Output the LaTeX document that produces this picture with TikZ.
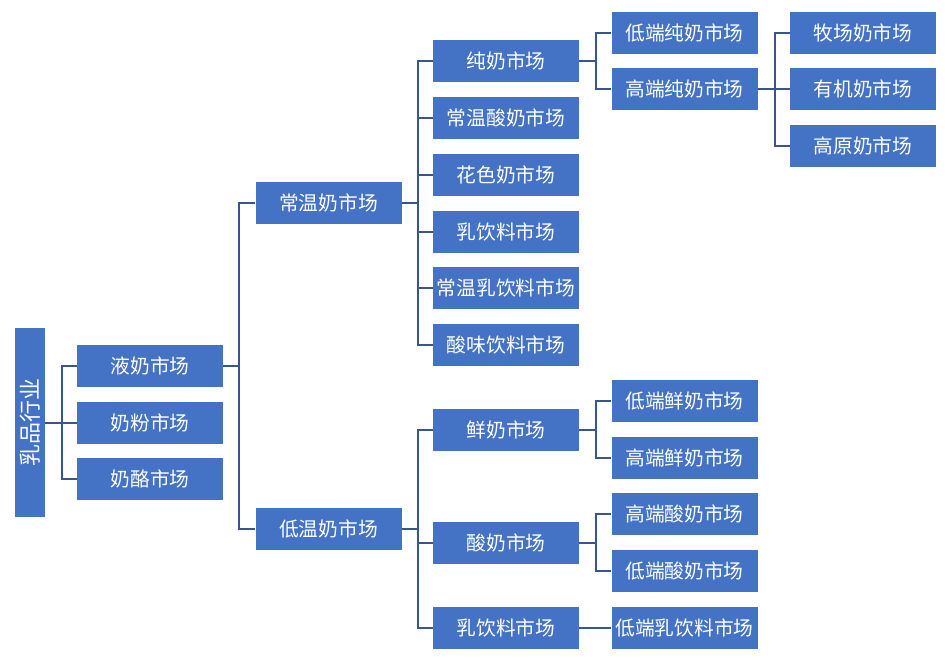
\documentclass[tikz,border=0pt]{standalone}
\usepackage{fontspec}
\newfontfamily\cjk{Noto Sans CJK SC}
\usepackage{xcolor}
\usepackage{tikz}
\usetikzlibrary{positioning,calc}

\definecolor{boxblue}{HTML}{4472C4}
\definecolor{linkblue}{HTML}{37568F}

\begin{document}
\begin{tikzpicture}[x=0.75pt,y=-0.75pt,
  market/.style={fill=boxblue, text=white, inner sep=0pt, minimum width=109.5pt, minimum height=31.5pt, font=\cjk\fontsize{14.8}{16}\selectfont},
  link/.style={draw=linkblue, line width=1.5pt}]
\useasboundingbox (0,0) rectangle (945,669);

% Root
\node[fill=boxblue, text=white, inner sep=0pt, rotate=90, minimum width=141.75pt, minimum height=22.5pt, font=\cjk\fontsize{16.5}{18}\selectfont] (dairy) at (30,422.5) {乳品行业};

% First level
\node[market] (liquid) at (150,366) {液奶市场};
\node[market] (powder) at (150,423) {奶粉市场};
\node[market] (cheese) at (150,479) {奶酪市场};

% Second level
\node[market] (ambient) at (328.5,203) {常温奶市场};
\node[market] (chilled) at (328.5,529) {低温奶市场};

% Third level, ambient
\node[market] (puremilk) at (506,61) {纯奶市场};
\node[market] (ambyogurt) at (506,118) {常温酸奶市场};
\node[market] (flavored) at (506,175) {花色奶市场};
\node[market] (milkdrink) at (506,232) {乳饮料市场};
\node[market] (ambdrink) at (506,288) {常温乳饮料市场};
\node[market] (sourdrink) at (506,345) {酸味饮料市场};

% Third level, chilled
\node[market] (fresh) at (506,430) {鲜奶市场};
\node[market] (yogurt) at (506,543) {酸奶市场};
\node[market] (chilldrink) at (506,628) {乳饮料市场};

% Fourth level
\node[market] (lowpure) at (684.5,33) {低端纯奶市场};
\node[market] (highpure) at (684.5,89) {高端纯奶市场};
\node[market] (lowfresh) at (684.5,401) {低端鲜奶市场};
\node[market] (highfresh) at (684.5,458) {高端鲜奶市场};
\node[market] (highyog) at (684.5,514) {高端酸奶市场};
\node[market] (lowyog) at (684.5,571) {低端酸奶市场};
\node[market] (lowdrink) at (684.5,628) {低端乳饮料市场};

% Fifth level
\node[market] (ranch) at (863,33) {牧场奶市场};
\node[market] (organic) at (863,89) {有机奶市场};
\node[market] (plateau) at (863,146) {高原奶市场};

% Connectors
\draw[link] (dairy.south) -- ++(17,0) |- (liquid.west);
\draw[link] (dairy.south) -- ++(17,0) |- (powder.west);
\draw[link] (dairy.south) -- ++(17,0) |- (cheese.west);

\draw[link] (liquid.east) -- ++(16,0) |- (ambient.west);
\draw[link] (liquid.east) -- ++(16,0) |- (chilled.west);

\draw[link] (ambient.east) -- ++(16,0) |- (puremilk.west);
\draw[link] (ambient.east) -- ++(16,0) |- (ambyogurt.west);
\draw[link] (ambient.east) -- ++(16,0) |- (flavored.west);
\draw[link] (ambient.east) -- ++(16,0) |- (milkdrink.west);
\draw[link] (ambient.east) -- ++(16,0) |- (ambdrink.west);
\draw[link] (ambient.east) -- ++(16,0) |- (sourdrink.west);

\draw[link] (chilled.east) -- ++(16,0) |- (fresh.west);
\draw[link] (chilled.east) -- ++(16,0) |- (yogurt.west);
\draw[link] (chilled.east) -- ++(16,0) |- (chilldrink.west);

\draw[link] (puremilk.east) -- ++(17,0) |- (lowpure.west);
\draw[link] (puremilk.east) -- ++(17,0) |- (highpure.west);
\draw[link] (fresh.east) -- ++(17,0) |- (lowfresh.west);
\draw[link] (fresh.east) -- ++(17,0) |- (highfresh.west);
\draw[link] (yogurt.east) -- ++(17,0) |- (highyog.west);
\draw[link] (yogurt.east) -- ++(17,0) |- (lowyog.west);
\draw[link] (chilldrink.east) -- (lowdrink.west);

\draw[link] (highpure.east) -- ++(17,0) |- (ranch.west);
\draw[link] (highpure.east) -- ++(17,0) |- (organic.west);
\draw[link] (highpure.east) -- ++(17,0) |- (plateau.west);

\end{tikzpicture}
\end{document}
